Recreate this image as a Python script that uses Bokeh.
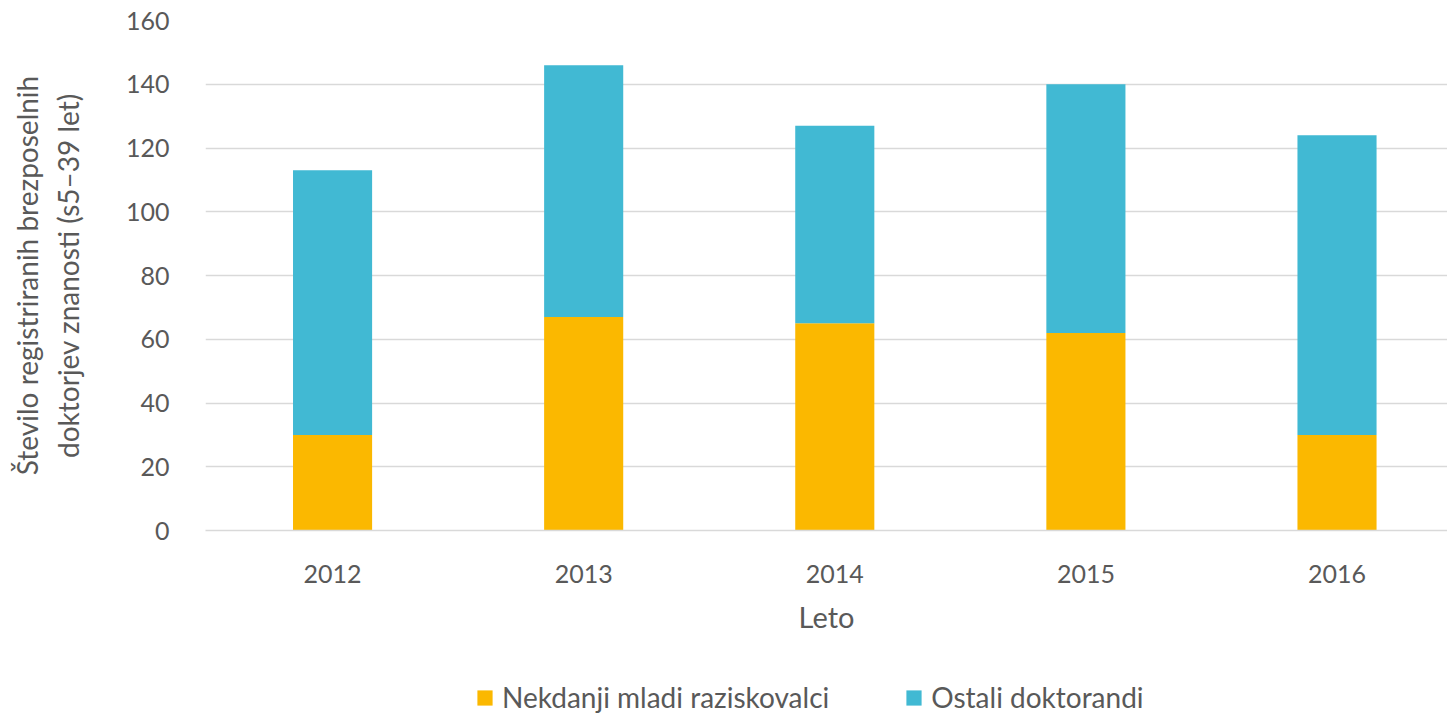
from bokeh.plotting import figure
from bokeh.layouts import column
from bokeh.models import Range1d, FixedTicker, Legend, LegendItem, ColumnDataSource
from bokeh.embed import file_html
from bokeh.resources import INLINE

years = ["2012", "2013", "2014", "2015", "2016"]
nekdanji = [30, 67, 65, 62, 30]
ostali = [83, 79, 62, 78, 94]
y_ticks = [0, 20, 40, 60, 80, 100, 120, 140, 160]
series_names = ["Nekdanji mladi raziskovalci", "Ostali doktorandi"]

FONT = "Lato"
TXT = "#595959"
C1 = "#FBB800"
C2 = "#41B9D3"

idx = list(range(len(years)))
src = ColumnDataSource(dict(x=idx, years=years, nekdanji=nekdanji, ostali=ostali))

p = figure(width=1447, height=660, output_backend="svg", toolbar_location=None,
           x_range=Range1d(-0.506, 4.44), y_range=Range1d(0, 160),
           min_border_left=205, min_border_right=0, min_border_top=20, min_border_bottom=130)

r = p.vbar_stack(["nekdanji", "ostali"], x="x", width=0.315, color=[C1, C2],
                 line_color=None, source=src)

p.outline_line_color = None
p.xgrid.grid_line_color = None
p.ygrid.grid_line_color = "#D9D9D9"
p.ygrid.grid_line_width = 1.5

p.yaxis.ticker = FixedTicker(ticks=y_ticks)
p.xaxis.ticker = FixedTicker(ticks=idx)
p.xaxis.major_label_overrides = {i: y for i, y in zip(idx, years)}

for ax in (p.xaxis, p.yaxis):
    ax.axis_line_color = None
    ax.major_tick_line_color = None
    ax.minor_tick_line_color = None
    ax.major_label_text_font = FONT
    ax.major_label_text_font_size = "25px"
    ax.major_label_text_color = TXT
    ax.axis_label_text_font = FONT
    ax.axis_label_text_font_style = "normal"
    ax.axis_label_text_color = TXT

p.xaxis.axis_line_color = "#D9D9D9"
p.xaxis.axis_line_width = 1.5
p.yaxis.major_label_standoff = 30
p.xaxis.major_label_standoff = 28
p.xaxis.axis_label = "Leto"
p.xaxis.axis_label_text_font_size = "29px"
p.xaxis.axis_label_standoff = 13
p.yaxis.axis_label = "Število registriranih brezposelnih\ndoktorjev znanosti (s5–39 let)"
p.yaxis.axis_label_text_font_size = "28px"
p.yaxis.axis_label_standoff = 38

# legend strip below the chart (its proxy bars draw the same data outside the visible range)
pl = figure(width=1447, height=54, output_backend="svg", toolbar_location=None,
            x_axis_type=None, y_axis_type=None, x_range=Range1d(-20, -19), y_range=Range1d(0, 1),
            min_border_left=0, min_border_right=0, min_border_top=0, min_border_bottom=0)
pl.outline_line_color = None
pl.xgrid.grid_line_color = None
pl.ygrid.grid_line_color = None
proxy1 = pl.vbar(x="x", top="nekdanji", width=0.315, source=src, fill_color=C1, line_color=None)
proxy2 = pl.vbar(x="x", top="ostali", width=0.315, source=src, fill_color=C2, line_color=None)

legend = Legend(items=[LegendItem(label=series_names[0], renderers=[proxy1]),
                       LegendItem(label=series_names[1], renderers=[proxy2])],
                orientation="horizontal", location=(270, 0),
                label_text_font=FONT, label_text_font_size="28px", label_text_color=TXT,
                glyph_width=19, glyph_height=19, spacing=75, padding=0, margin=0,
                label_standoff=8,
                border_line_color=None, background_fill_alpha=0)
pl.add_layout(legend, "center")

layout = column(p, pl, spacing=0)
open("out.html", "w").write(file_html(layout, INLINE))
